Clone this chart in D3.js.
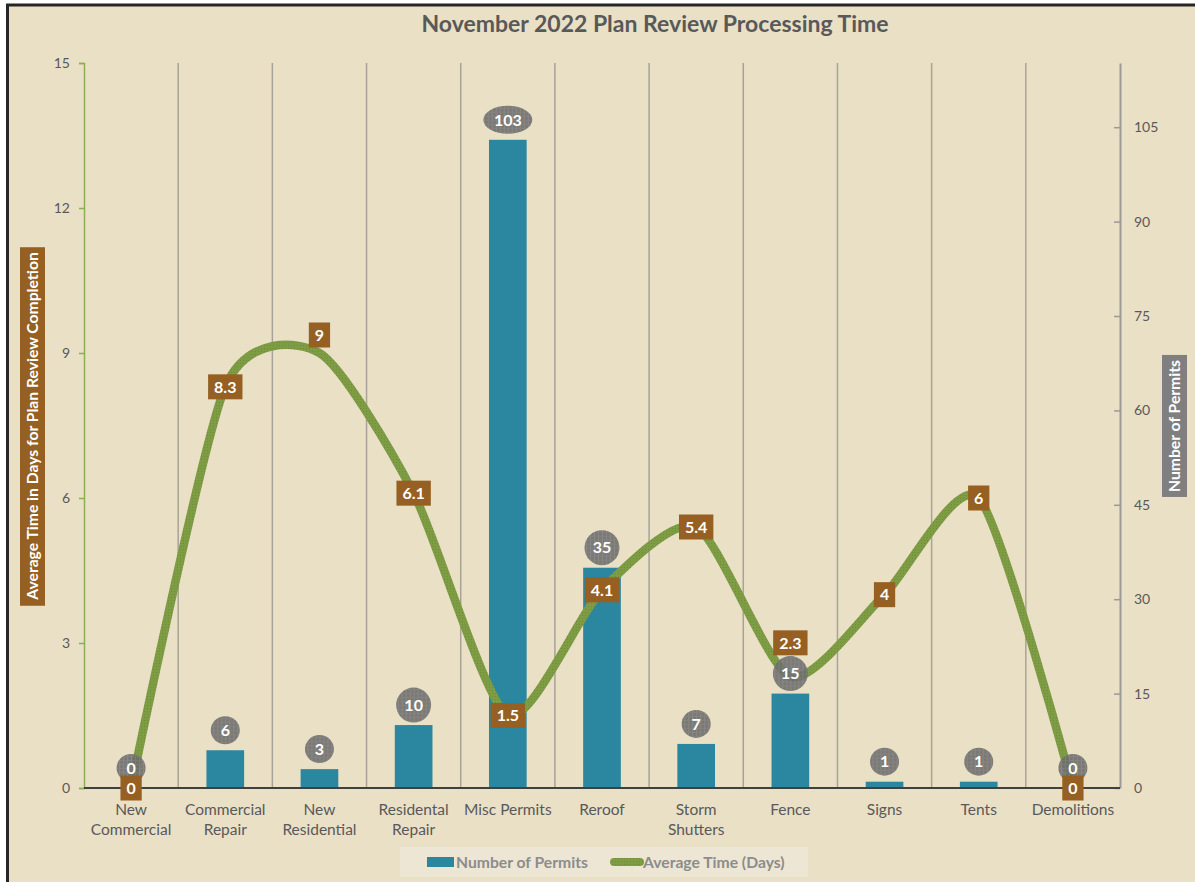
<!DOCTYPE html><html><meta charset="UTF-8">
<title>November 2022 Plan Review Processing Time</title>
<style>
  body { margin: 0; background: #fff; overflow: hidden; }
  text { font-family: Lato, "Open Sans", sans-serif; }
  .tick text { fill: #595959; font-size: 14px; }
</style>
<script src="https://cdn.jsdelivr.net/npm/d3@7"></script>
<svg width="1195" height="882"></svg>
<script>

// chart data
var categories = ["New\nCommercial", "Commercial\nRepair", "New\nResidential", "Residental\nRepair",
                  "Misc Permits", "Reroof", "Storm\nShutters", "Fence", "Signs", "Tents", "Demolitions"];
var permits = [0, 6, 3, 10, 103, 35, 7, 15, 1, 1, 0];
var avgDays = [0, 8.3, 9, 6.1, 1.5, 4.1, 5.4, 2.3, 4, 6, 0];
var leftTicks = [0, 3, 6, 9, 12, 15];
var rightTicks = [0, 15, 30, 45, 60, 75, 90, 105];

// a couple of the line labels were dragged up in the original
var labelNudge = {2: -18, 7: -34};

var svg = d3.select("svg"),
    margin = {left: 84, right: 75, top: 63, bottom: 94},
    width = 1195 - margin.left - margin.right,
    height = 882 - margin.top - margin.bottom;

var defs = svg.append("defs");

// texture for the gray bubbles
var pat = defs.append("pattern").attr("id", "bub").attr("patternUnits", "userSpaceOnUse")
    .attr("width", 4).attr("height", 4);
pat.append("rect").attr("width", 4).attr("height", 4).attr("fill", "#6b6b6b");
pat.append("rect").attr("width", 1).attr("height", 4).attr("fill", "#7c7c7c");
pat.append("rect").attr("width", 4).attr("height", 1).attr("fill", "#767676");

// texture for the line
var lp = defs.append("pattern").attr("id", "lin").attr("patternUnits", "userSpaceOnUse")
    .attr("width", 3).attr("height", 3);
lp.append("rect").attr("width", 3).attr("height", 3).attr("fill", "#7e9c43");
lp.append("rect").attr("width", 1).attr("height", 1).attr("fill", "#6f8c38");

// chart area background + border
svg.append("rect").attr("x", 7.5).attr("y", 5).attr("width", 1200).attr("height", 900)
    .attr("fill", "#eae0c6").attr("stroke", "#262626").attr("stroke-width", 3);

svg.append("text").attr("x", 655).attr("y", 32).attr("text-anchor", "middle")
    .style("font-size", "23px").style("font-weight", "bold").attr("fill", "#595959")
    .text("November 2022 Plan Review Processing Time");

var g = svg.append("g").attr("transform", "translate(" + margin.left + "," + margin.top + ")");

var x = d3.scaleBand().domain(d3.range(categories.length)).range([0, width]).paddingInner(0).paddingOuter(0);
var yL = d3.scaleLinear().domain([0, 15]).range([height, 0]);
var yR = d3.scaleLinear().domain([0, 115.2]).range([height, 0]);

// vertical gridlines between categories
g.selectAll(".grid").data(d3.range(1, categories.length)).enter().append("line")
    .attr("x1", d => x(d)).attr("x2", d => x(d))
    .attr("y1", 0).attr("y2", height)
    .attr("stroke", "#a7a398").attr("stroke-width", 1.5);

// left axis
var axL = g.append("g").call(d3.axisLeft(yL).tickValues(leftTicks).tickSize(5).tickPadding(9));
axL.select(".domain").attr("stroke", "#8fae52").attr("stroke-width", 1.5);
axL.selectAll(".tick line").attr("stroke", "#8fae52").attr("stroke-width", 1.5);

// right axis (ticks point inward)
var axR = g.append("g").attr("transform", "translate(" + width + ",0)")
    .call(d3.axisRight(yR).tickValues(rightTicks).tickSize(0).tickPadding(14));
axR.select(".domain").attr("stroke", "#9a9a96").attr("stroke-width", 2);
axR.selectAll(".tick").append("line").attr("x1", -6).attr("x2", 0).attr("stroke", "#9a9a96").attr("stroke-width", 1.5);

// bars
g.selectAll(".bar").data(permits).enter().append("rect")
    .attr("x", (d, i) => x(i) + x.bandwidth() * 0.3)
    .attr("width", x.bandwidth() * 0.4)
    .attr("y", d => yR(d))
    .attr("height", d => height - yR(d))
    .attr("fill", "#2b879f");

// bottom axis line
g.append("line").attr("x1", 0).attr("x2", width).attr("y1", height).attr("y2", height)
    .attr("stroke", "#404040").attr("stroke-width", 2);

// category labels
g.selectAll(".cat").data(categories).enter().append("text")
    .attr("text-anchor", "middle").attr("fill", "#595959").style("font-size", "15.5px")
    .attr("transform", (d, i) => "translate(" + (x(i) + x.bandwidth() / 2) + "," + (height + 27) + ")")
    .each(function(d) {
      var t = d3.select(this);
      d.split("\n").forEach(function(s, k) {
        t.append("tspan").attr("x", 0).attr("dy", k ? 19.5 : 0).text(s);
      });
    });

// smoothed line
var line = d3.line()
    .x((d, i) => x(i) + x.bandwidth() / 2)
    .y(d => yL(d))
    .curve(d3.curveCardinal.tension(0.3));

g.append("path").datum(avgDays).attr("d", line)
    .attr("fill", "none").attr("stroke", "url(#lin)").attr("stroke-width", 8.5)
    .attr("stroke-linecap", "round");

// bubble labels for bars
var bub = g.selectAll(".bub").data(permits).enter().append("g")
    .attr("transform", (d, i) => "translate(" + (x(i) + x.bandwidth() / 2) + "," + (yR(d) - 20) + ")");
bub.append("ellipse")
    .attr("rx", d => String(d).length > 2 ? 24.5 : String(d).length > 1 ? 17.5 : 14.5)
    .attr("ry", d => String(d).length > 2 ? 14 : String(d).length > 1 ? 17.5 : 14)
    .attr("fill", "url(#bub)").attr("opacity", 0.88);
bub.append("text").attr("text-anchor", "middle").attr("dy", "0.36em")
    .attr("fill", "#fff").style("font-size", "16px").style("font-weight", "bold")
    .text(d => d);

// brown labels for the line
var lab = g.selectAll(".lab").data(avgDays).enter().append("g")
    .attr("transform", (d, i) => "translate(" + (x(i) + x.bandwidth() / 2) + "," + (yL(d) + (labelNudge[i] || 0)) + ")");
lab.append("text").attr("text-anchor", "middle").attr("dy", "0.36em")
    .attr("fill", "#fff").style("font-size", "16px").style("font-weight", "bold")
    .text(d => d);
lab.each(function() {
  var gg = d3.select(this), bb = gg.select("text").node().getBBox();
  gg.insert("rect", "text").attr("x", bb.x - 6).attr("width", bb.width + 12)
    .attr("y", -12.5).attr("height", 25).attr("fill", "#956021");
});

// axis titles
function axisTitle(cx, cy, txt, fill) {
  var t = svg.append("g").attr("transform", "translate(" + cx + "," + cy + ") rotate(-90)");
  var tx = t.append("text").attr("text-anchor", "middle").attr("dy", "0.36em")
      .attr("fill", "#fff").style("font-size", "15.7px").style("font-weight", "bold").text(txt);
  var bb = tx.node().getBBox();
  t.insert("rect", "text").attr("x", bb.x - 5).attr("width", bb.width + 10)
    .attr("y", -12.5).attr("height", 25).attr("fill", fill);
}
axisTitle(32.5, 426, "Average Time in Days for Plan Review Completion", "#956021");
axisTitle(1174.5, 426, "Number of Permits", "#7f7f7f");

// legend
var leg = svg.append("g");
leg.append("rect").attr("x", 400).attr("y", 847).attr("width", 408).attr("height", 30).attr("fill", "#ede6d4");
leg.append("rect").attr("x", 427).attr("y", 857).attr("width", 27).attr("height", 10).attr("fill", "#2b879f");
leg.append("text").attr("x", 456).attr("y", 867.5).attr("fill", "#8c8c8c")
    .style("font-size", "15.7px").style("font-weight", "bold").text("Number of Permits");
leg.append("line").attr("x1", 614).attr("x2", 640).attr("y1", 862).attr("y2", 862)
    .attr("stroke", "url(#lin)").attr("stroke-width", 8).attr("stroke-linecap", "round");
leg.append("text").attr("x", 643).attr("y", 867.5).attr("fill", "#8c8c8c")
    .style("font-size", "15.7px").style("font-weight", "bold").text("Average Time (Days)");

</script>
</html>
